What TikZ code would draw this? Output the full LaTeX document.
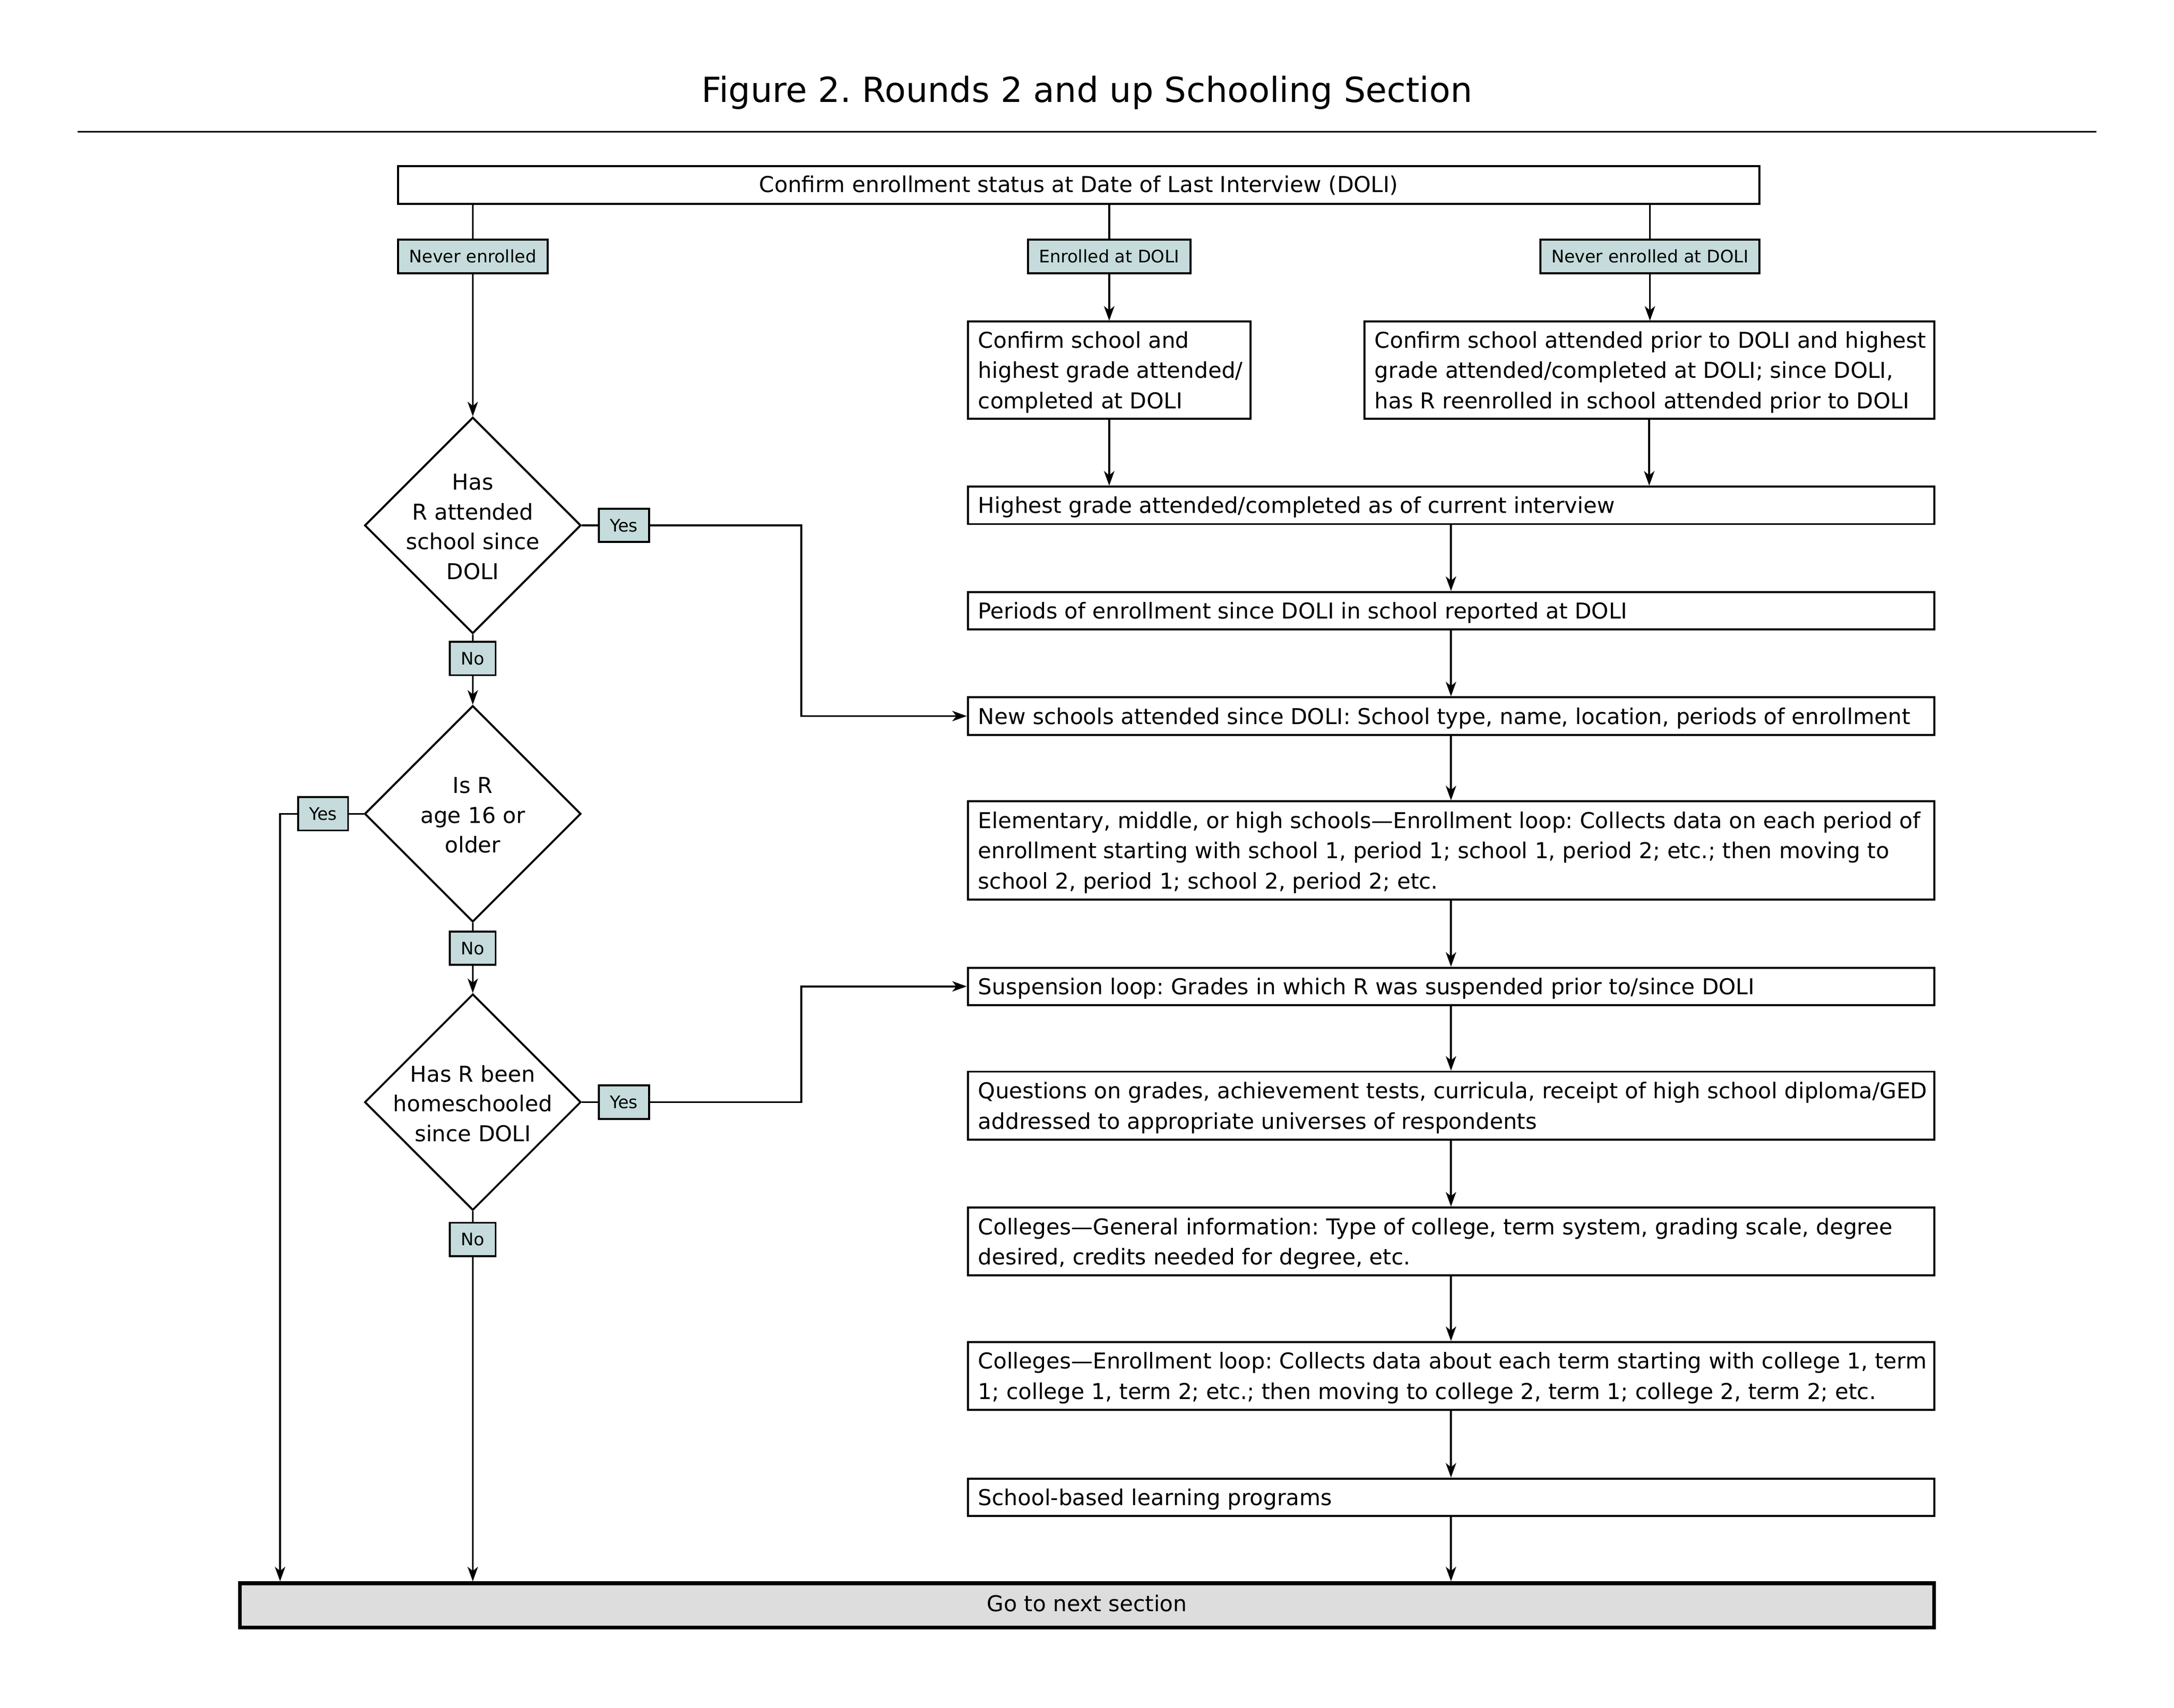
\documentclass[tikz,border=0pt]{standalone}
\usepackage{fontspec}
\setmainfont{DejaVu Sans}
\usetikzlibrary{arrows.meta,shapes.geometric}
\definecolor{tagfill}{RGB}{198,220,220}
\definecolor{endfill}{RGB}{221,221,221}
\newcommand{\px}{0.026786cm}
\frenchspacing
\tikzset{
  topbox/.style={draw=black,line width=1.1pt,minimum width=982*\px,minimum height=27*\px,inner sep=0pt,text height=0.95em,text depth=0.13em,font=\fontsize{12}{16.6}\selectfont},
  mainbox/.style={draw=black,line width=1.1pt,fill=white,minimum width=697*\px,inner sep=0pt},
  boxtext/.style={anchor=west,align=left,inner xsep=8*\px,inner ysep=0pt,yshift=-1.5*\px,font=\fontsize{12}{16.6}\selectfont},
  tagbox/.style={draw=black,line width=1.1pt,fill=tagfill,minimum height=24*\px,inner xsep=8*\px,inner ysep=0pt,font=\fontsize{9.5}{11}\selectfont},
  decision/.style={diamond,draw=black,line width=1.1pt,fill=white,minimum width=156*\px,minimum height=156*\px,inner sep=0pt},
  dectext/.style={align=center,yshift=-1*\px,font=\fontsize{12}{16.4}\selectfont},
  endbox/.style={draw=black,line width=2.1pt,fill=endfill,minimum width=1222*\px,minimum height=32*\px,inner sep=0pt,text height=0.9em,text depth=0.24em,font=\fontsize{12}{16.6}\selectfont},
  link/.style={line width=1pt},
  flow/.style={line width=1pt,-{Stealth[length=0.28cm,width=0.2cm,inset=0.08cm]}}
}

\begin{document}
\begin{tikzpicture}[x=\px,y=-\px]
\useasboundingbox (0,0) rectangle (1568,1232);
\node[font=\fontsize{19}{23}\selectfont] (title) at (784,67) {Figure 2. Rounds 2 and up Schooling Section};
\draw[line width=1pt] (56,95) -- (1512,95);
\node[topbox] (doli) at (778,133.5) {Confirm enrollment status at Date of Last Interview (DOLI)};
\node[tagbox] (never) at (341,185) {Never enrolled};
\node[tagbox] (enr) at (800,185) {Enrolled at DOLI};
\node[tagbox] (nenr) at (1190,185) {Never enrolled at DOLI};
\node[mainbox,minimum width=204*\px,minimum height=70*\px,label={[boxtext]west:{Confirm school and\\highest grade attended/\\completed at DOLI}}] (cs1) at (800,267) {};
\node[mainbox,minimum width=411*\px,minimum height=70*\px,label={[boxtext]west:{Confirm school attended prior to DOLI and highest\\grade attended/completed at DOLI; since DOLI,\\has R reenrolled in school attended prior to DOLI}}] (cs2) at (1189.5,267) {};
\node[mainbox,minimum height=27*\px,label={[boxtext]west:{Highest grade attended/completed as of current interview}}] (hg) at (1046.5,364.5) {};
\node[mainbox,minimum height=27*\px,label={[boxtext]west:{Periods of enrollment since DOLI in school reported at DOLI}}] (pe) at (1046.5,440.5) {};
\node[mainbox,minimum height=27*\px,label={[boxtext]west:{New schools attended since DOLI: School type, name, location, periods of enrollment}}] (ns) at (1046.5,516.5) {};
\node[mainbox,minimum height=71*\px,label={[boxtext]west:{Elementary, middle, or high schools—Enrollment loop: Collects data on each period of\\enrollment starting with school 1, period 1; school 1, period 2; etc.; then moving to\\school 2, period 1; school 2, period 2; etc.}}] (el) at (1046.5,613.5) {};
\node[mainbox,minimum height=27*\px,label={[boxtext]west:{Suspension loop: Grades in which R was suspended prior to/since DOLI}}] (sl) at (1046.5,711.5) {};
\node[mainbox,minimum height=49*\px,label={[boxtext]west:{Questions on grades, achievement tests, curricula, receipt of high school diploma/GED\\addressed to appropriate universes of respondents}}] (qg) at (1046.5,797.5) {};
\node[mainbox,minimum height=49*\px,label={[boxtext]west:{Colleges—General information: Type of college, term system, grading scale, degree\\desired, credits needed for degree, etc.}}] (cg) at (1046.5,895.5) {};
\node[mainbox,minimum height=49*\px,label={[boxtext]west:{Colleges—Enrollment loop: Collects data about each term starting with college 1, term\\1; college 1, term 2; etc.; then moving to college 2, term 1; college 2, term 2; etc.}}] (ce) at (1046.5,992.5) {};
\node[mainbox,minimum height=27*\px,label={[boxtext]west:{School-based learning programs}}] (sb) at (1046.5,1080) {};
\node[decision,label={[dectext]center:{Has\\R attended\\school since\\DOLI}}] (hasr) at (341,379) {};
\node[decision,label={[dectext]center:{Is R\\age 16 or\\older}}] (age) at (341,587) {};
\node[decision,label={[dectext]center:{Has R been\\homeschooled\\since DOLI}}] (home) at (341,795) {};
\node[tagbox] (yes1) at (450,379) {Yes};
\node[tagbox] (no1) at (341,475) {No};
\node[tagbox] (yes2) at (233,587) {Yes};
\node[tagbox] (no2) at (341,684) {No};
\node[tagbox] (yes3) at (450,795) {Yes};
\node[tagbox] (no3) at (341,894) {No};
\node[endbox] (gn) at (784,1158) {Go to next section};
\coordinate (bend1) at (578,379);
\coordinate (bend2) at (202,587);
\coordinate (bend3) at (578,795);

\draw[link] (doli.south -| never) -- (never);
\draw[link] (doli.south -| enr) -- (enr);
\draw[link] (doli.south -| nenr) -- (nenr);
\draw[flow] (never) -- (hasr);
\draw[flow] (enr) -- (cs1);
\draw[flow] (nenr) -- (nenr |- cs2.north);
\draw[flow] (cs1) -- (cs1 |- hg.north);
\draw[flow] (cs2) -- (cs2 |- hg.north);
\draw[flow] (hg) -- (pe);
\draw[flow] (pe) -- (ns);
\draw[flow] (ns) -- (el);
\draw[flow] (el) -- (sl);
\draw[flow] (sl) -- (qg);
\draw[flow] (qg) -- (cg);
\draw[flow] (cg) -- (ce);
\draw[flow] (ce) -- (sb);
\draw[flow] (sb) -- (sb |- gn.north);
\draw[link] (hasr) -- (yes1);
\draw[flow] (yes1) -- (bend1) |- (ns);
\draw[link] (hasr) -- (no1);
\draw[flow] (no1) -- (age);
\draw[link] (age) -- (yes2);
\draw[flow] (yes2) -- (bend2) -- (bend2 |- gn.north);
\draw[link] (age) -- (no2);
\draw[flow] (no2) -- (home);
\draw[link] (home) -- (yes3);
\draw[flow] (yes3) -- (bend3) |- (sl);
\draw[link] (home) -- (no3);
\draw[flow] (no3) -- (no3 |- gn.north);
\end{tikzpicture}
\end{document}
